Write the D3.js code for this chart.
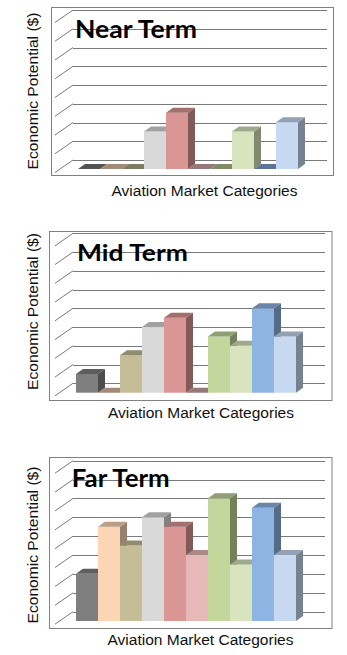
<!DOCTYPE html>
<html>
<head>
<meta charset="utf-8">
<script src="https://cdn.jsdelivr.net/npm/d3@7/dist/d3.min.js"></script>
<style>
  html, body { margin: 0; padding: 0; background: #fff; }
  svg { display: block; }
</style>
</head>
<body>
<svg id="chart" width="347" height="655"></svg>
<script>
// Market categories (one colour each, in drawing order)
const categories = ["Category 1", "Category 2", "Category 3", "Category 4", "Category 5",
                    "Category 6", "Category 7", "Category 8", "Category 9", "Category 10"];
const categoryColors = ["#7f7f7f", "#fcd5b5", "#c4bd97", "#d9d9d9", "#d99694",
                        "#e6b9b8", "#c3d69b", "#d7e4bd", "#8eb4e3", "#c6d9f1"];

// Economic potential per category, in gridline units
const nearTerm = [0, 0, 0, 2, 3, 0, 0, 2, 0, 2.5];
const midTerm  = [1, 0, 2, 3.5, 4, 0, 3, 2.5, 4.5, 3];
const farTerm  = [2.5, 5, 4, 5.5, 5, 3.5, 6.5, 3, 6, 3.5];

// Gridline levels on the back wall (no tick labels are shown)
const gridTicks = [0, 1, 2, 3, 4, 5, 6, 7, 8];

const panelTitles = ["Near Term", "Mid Term", "Far Term"];
const xAxisTitle = "Aviation Market Categories";
const yAxisTitle = "Economic Potential ($)";

// Layout of each panel
const panels = [
  { values: nearTerm, title: panelTitles[0],
    frame: { x: 51.5, y: 7.5, w: 282, h: 168 },
    wall: [73, 327], grid: [160, 10], barBase: 169, bars: [78, 298],
    titleX: 75, titleY: 38, titleW: 122, titleSize: 24,
    xLabel: { cx: 204.5, y: 196 }, yLabelCy: 91 },
  { values: midTerm, title: panelTitles[1],
    frame: { x: 49.5, y: 231.5, w: 282.5, h: 169 },
    wall: [73, 325], grid: [383.3, 233.3], barBase: 392.7, bars: [76, 296],
    titleX: 77, titleY: 260.7, titleW: 111, titleSize: 22,
    xLabel: { cx: 201, y: 417.5 }, yLabelCy: 311.5 },
  { values: farTerm, title: panelTitles[2],
    frame: { x: 49.5, y: 457.5, w: 282.5, h: 171 },
    wall: [73, 325], grid: [611.7, 460.7], barBase: 621, bars: [76, 296],
    titleX: 71.7, titleY: 486.7, titleW: 98, titleSize: 24,
    xLabel: { cx: 200.5, y: 645 }, yLabelCy: 545 }
];

const svg = d3.select("#chart");
const wallDepth = { dx: 18, dy: 12.5 };   // side wall / floor depth
const barDepth = { dx: 7, dy: 5 };        // column depth
const gridColor = "#7a7a7a";

function shade(c, k) {
  const col = d3.rgb(c);
  return d3.rgb(col.r * k, col.g * k, col.b * k).formatHex();
}

function drawPanel(p) {
  const g = svg.append("g");

  // Chart frame
  g.append("rect")
    .attr("x", p.frame.x).attr("y", p.frame.y)
    .attr("width", p.frame.w).attr("height", p.frame.h)
    .attr("fill", "#fff").attr("stroke", "#808080").attr("stroke-width", 1);

  // Value scales: back wall for gridlines, front plane for the columns
  const yWall = d3.scaleLinear().domain([0, 8]).range([p.grid[0], p.grid[1]]);
  const unit = (p.grid[0] - p.grid[1]) / 8;
  const yBar = d3.scaleLinear().domain([0, 8]).range([p.barBase, p.barBase - 8 * unit]);
  const x = d3.scaleBand().domain(categories).range(p.bars).padding(0);
  const color = d3.scaleOrdinal().domain(categories).range(categoryColors);

  // Back-wall gridlines
  g.selectAll(".grid").data(gridTicks).join("line")
    .attr("x1", p.wall[0]).attr("x2", p.wall[1])
    .attr("y1", d => Math.round(yWall(d)) + 0.5).attr("y2", d => Math.round(yWall(d)) + 0.5)
    .attr("stroke", gridColor).attr("stroke-width", 1);

  // Side-wall gridlines running toward the viewer
  g.selectAll(".side").data(gridTicks).join("line")
    .attr("x1", p.wall[0] - wallDepth.dx).attr("y1", d => yWall(d) + wallDepth.dy)
    .attr("x2", p.wall[0]).attr("y2", d => yWall(d))
    .attr("stroke", gridColor).attr("stroke-width", 1);

  // Columns (left to right so each front face covers the previous side face)
  const data = categories.map((c, i) => ({ c, v: p.values[i] }));
  const bar = g.selectAll(".bar").data(data).join("g");

  bar.append("path") // side face
    .attr("d", d => {
      const x1 = x(d.c) + x.bandwidth(), yt = yBar(d.v), yb = yBar(0);
      return `M${x1},${yb}L${x1 + barDepth.dx},${yb - barDepth.dy}L${x1 + barDepth.dx},${yt - barDepth.dy}L${x1},${yt}Z`;
    })
    .attr("fill", d => shade(color(d.c), 0.6));

  bar.append("rect") // front face
    .attr("x", d => x(d.c)).attr("width", x.bandwidth())
    .attr("y", d => yBar(d.v)).attr("height", d => yBar(0) - yBar(d.v))
    .attr("fill", d => color(d.c));

  bar.append("path") // top face
    .attr("d", d => {
      const x0 = x(d.c), x1 = x0 + x.bandwidth(), yt = yBar(d.v);
      return `M${x0},${yt}L${x0 + barDepth.dx},${yt - barDepth.dy}L${x1 + barDepth.dx},${yt - barDepth.dy}L${x1},${yt}Z`;
    })
    .attr("fill", d => shade(color(d.c), d.v === 0 ? 0.65 : 0.74));

  // Panel title
  g.append("text")
    .attr("x", p.titleX).attr("y", p.titleY)
    .attr("textLength", p.titleW).attr("lengthAdjust", "spacingAndGlyphs")
    .attr("font-family", "Lato, 'Open Sans', sans-serif").attr("font-weight", 700)
    .attr("font-size", p.titleSize).attr("fill", "#000")
    .text(p.title);

  // Axis titles
  g.append("text")
    .attr("x", p.xLabel.cx).attr("y", p.xLabel.y)
    .attr("text-anchor", "middle")
    .attr("textLength", 186).attr("lengthAdjust", "spacingAndGlyphs")
    .attr("font-family", "'Liberation Sans', Arial, sans-serif")
    .attr("font-size", 15.5).attr("fill", "#111")
    .text(xAxisTitle);

  g.append("text")
    .attr("transform", `translate(37.5,${p.yLabelCy}) rotate(-90)`)
    .attr("text-anchor", "middle")
    .attr("textLength", 157).attr("lengthAdjust", "spacingAndGlyphs")
    .attr("font-family", "'Liberation Sans', Arial, sans-serif")
    .attr("font-size", 15).attr("fill", "#111")
    .text(yAxisTitle);
}

panels.forEach(drawPanel);
</script>
</body>
</html>
